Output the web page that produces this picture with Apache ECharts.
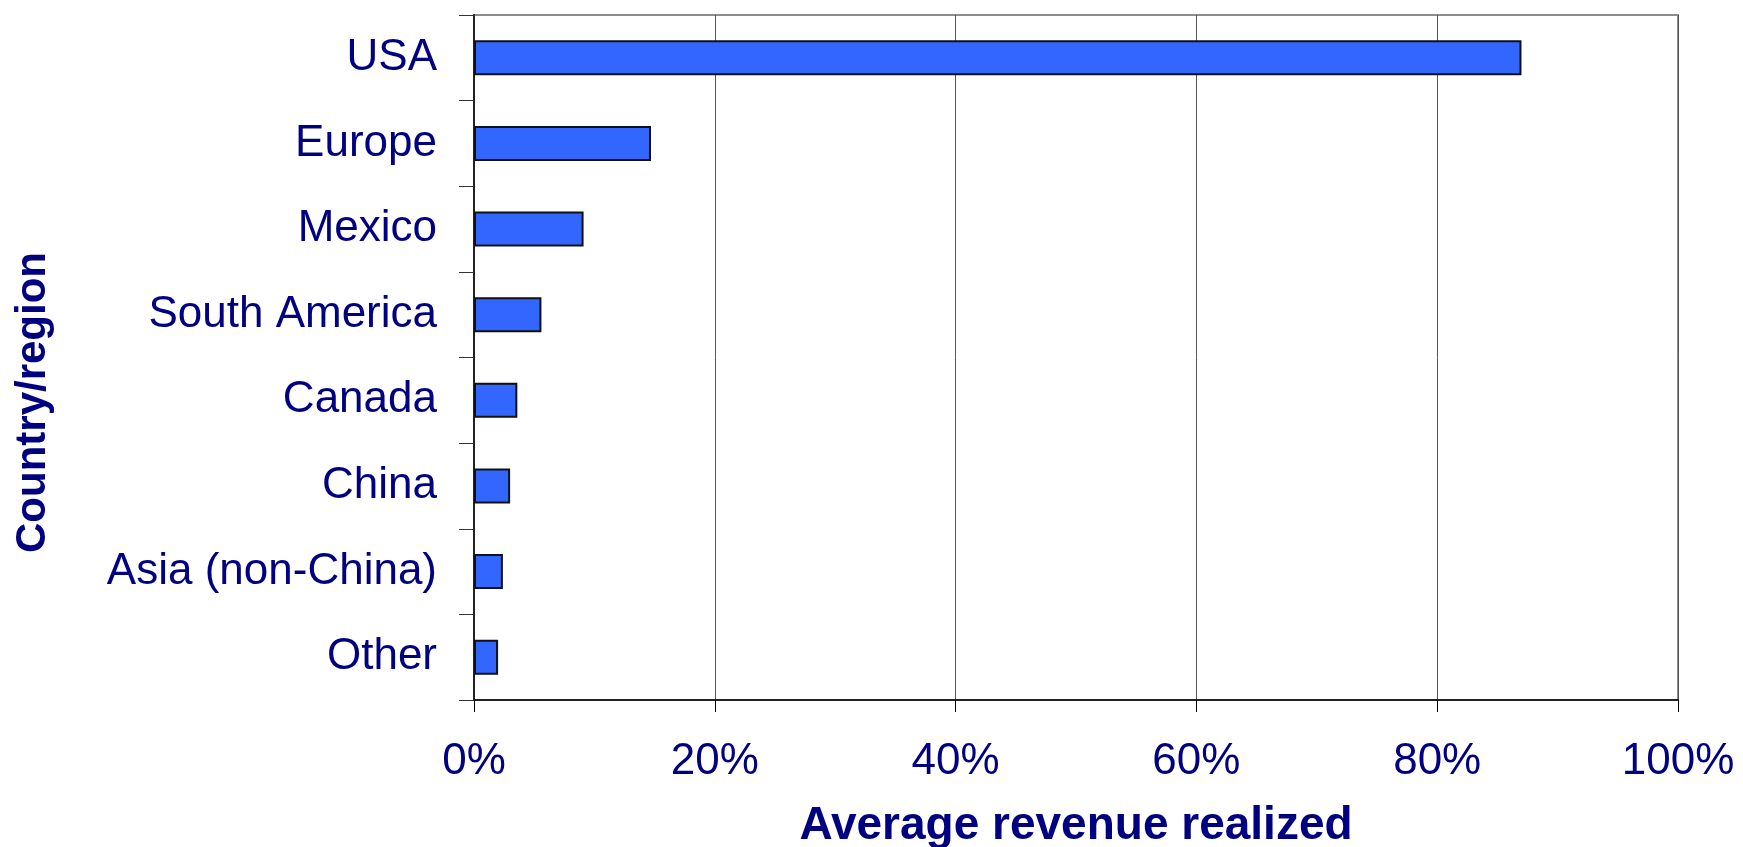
<!DOCTYPE html>
<html>
<head>
<meta charset="utf-8">
<script src="https://cdn.jsdelivr.net/npm/echarts@6/dist/echarts.min.js"></script>
<style>
  html, body { margin: 0; padding: 0; background: #ffffff; }
  #chart { width: 1743px; height: 847px; }
</style>
</head>
<body>
<div id="chart"></div>
<script>
// Share of average revenue realized, by country/region
const regions = ['USA', 'Europe', 'Mexico', 'South America', 'Canada', 'China', 'Asia (non-China)', 'Other'];
const revenueShare = [87, 14.7, 9.1, 5.6, 3.6, 3.0, 2.4, 2.0];
const percentTicks = [0, 20, 40, 60, 80, 100];

const navy = '#000080';
const font = '"Liberation Sans", Arial, sans-serif';

const chart = echarts.init(document.getElementById('chart'), null, { renderer: 'canvas' });

chart.setOption({
  backgroundColor: '#ffffff',
  animation: false,
  grid: {
    left: 474, top: 15, right: 65, bottom: 147,
    containLabel: false,
    outerBoundsMode: 'none',
    show: true, borderColor: '#8c8c8c', borderWidth: 2, backgroundColor: 'transparent'
  },
  xAxis: {
    type: 'value',
    min: percentTicks[0],
    max: percentTicks[percentTicks.length - 1],
    interval: 20,
    name: 'Average revenue realized',
    nameLocation: 'middle',
    nameGap: 103,
    nameTextStyle: { color: navy, fontFamily: font, fontWeight: 'bold', fontSize: 46 },
    axisLine: { show: true, lineStyle: { color: '#222', width: 2 } },
    axisTick: { show: true, length: 12, lineStyle: { color: '#000', width: 1 } },
    axisLabel: {
      color: navy, fontFamily: font, fontSize: 44, margin: 40,
      formatter: v => v + '%'
    },
    splitLine: { show: true, lineStyle: { color: '#555', width: 1 } }
  },
  yAxis: {
    type: 'category',
    data: regions,
    inverse: true,
    name: 'Country/region',
    nameLocation: 'middle',
    nameRotate: 90,
    nameGap: 420,
    nameTextStyle: {
      color: navy, fontFamily: font, fontWeight: 'bold', fontSize: 42,
      padding: [0, 90, 0, 0]
    },
    axisLine: { show: true, lineStyle: { color: '#222', width: 2 } },
    axisTick: { show: true, length: 15, lineStyle: { color: '#333', width: 1 } },
    axisLabel: { color: navy, fontFamily: font, fontSize: 44, margin: 37 },
    splitLine: { show: false }
  },
  series: [{
    type: 'bar',
    data: revenueShare,
    barWidth: 35,
    itemStyle: { color: '#3366ff', borderColor: '#111', borderWidth: 2 }
  }]
});
</script>
</body>
</html>
